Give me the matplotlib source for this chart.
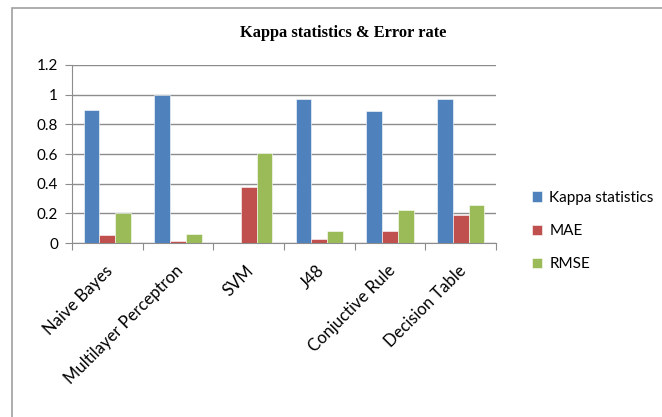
import matplotlib
matplotlib.use("Agg")
import matplotlib.pyplot as plt
from matplotlib.patches import Rectangle
from matplotlib.transforms import ScaledTranslation
import numpy as np

classifiers = ["Naive Bayes", "Multilayer Perceptron", "SVM", "J48",
               "Conjuctive Rule", "Decision Table"]
kappa = [0.90, 1.00, 0.00, 0.973, 0.888, 0.973]
mae = [0.052, 0.013, 0.38, 0.025, 0.081, 0.19]
rmse = [0.204, 0.063, 0.607, 0.081, 0.225, 0.254]
series_names = ["Kappa statistics", "MAE", "RMSE"]
y_ticks = [0, 0.2, 0.4, 0.6, 0.8, 1, 1.2]
y_tick_labels = ["0", "0.2", "0.4", "0.6", "0.8", "1", "1.2"]

colors = ["#4F81BD", "#C0504D", "#9BBB59"]
grid_color = "#8C8C8C"
label_font = ["Lato", "DejaVu Sans"]

fig = plt.figure(figsize=(6.62, 4.17), dpi=100)
fig.patch.set_facecolor("white")

# chart frame (only its top and left edges fall inside the image)
fig.patches.append(Rectangle((12 / 662, -0.2), 1.2, 1.2 - 8 / 417,
                             transform=fig.transFigure, fill=False,
                             edgecolor="#A0A0A0", linewidth=1.2))

ax = fig.add_axes([72 / 662, 1 - 243 / 417, (496 - 72) / 662, (243 - 65) / 417])

x = np.arange(len(classifiers))
width = 0.222
for i, (vals, name) in enumerate(zip([kappa, mae, rmse], series_names)):
    ax.bar(x + (i - 1) * width, vals, width, color=colors[i], label=name,
           edgecolor="white", linewidth=0.4, zorder=3)

ax.set_xlim(-0.5, len(classifiers) - 0.5)
ax.set_ylim(0, 1.2)
ax.set_yticks(y_ticks)
ax.set_yticklabels(y_tick_labels, fontsize=11, family=label_font)
ax.yaxis.grid(True, color=grid_color, linewidth=1.0, zorder=0)
ax.set_axisbelow(True)

for s in ["top", "right"]:
    ax.spines[s].set_visible(False)
ax.spines["left"].set_color(grid_color)
ax.spines["bottom"].set_color(grid_color)

# tick marks on category boundaries, labels at category centres
ax.set_xticks(np.arange(-0.5, len(classifiers), 1.0))
ax.set_xticklabels([])
ax.set_xticks(x, minor=True)
ax.set_xticklabels(classifiers, minor=True, rotation=45, ha="right",
                   rotation_mode="anchor", fontsize=12, family=label_font)
ax.tick_params(axis="x", which="minor", length=0, pad=14)
ax.tick_params(axis="x", which="major", length=5, color=grid_color)
ax.tick_params(axis="y", length=5, color=grid_color, pad=5)
shift = ScaledTranslation(-3 / 100, 0, fig.dpi_scale_trans)
for lbl in ax.get_xticklabels(minor=True):
    lbl.set_transform(lbl.get_transform() + shift)

fig.text(343 / 662, 1 - 33 / 417, "Kappa statistics & Error rate",
         ha="center", va="center", fontsize=11.8, fontweight="bold",
         family=["Liberation Serif", "DejaVu Serif"])

leg = ax.legend(loc="center left", bbox_to_anchor=(518 / 662, 1 - 231 / 417),
                bbox_transform=fig.transFigure, frameon=False,
                handlelength=0.65, handleheight=0.65, handletextpad=0.5,
                labelspacing=1.25, prop={"family": label_font, "size": 11})

fig.savefig("out.png", dpi=100, facecolor="white")
